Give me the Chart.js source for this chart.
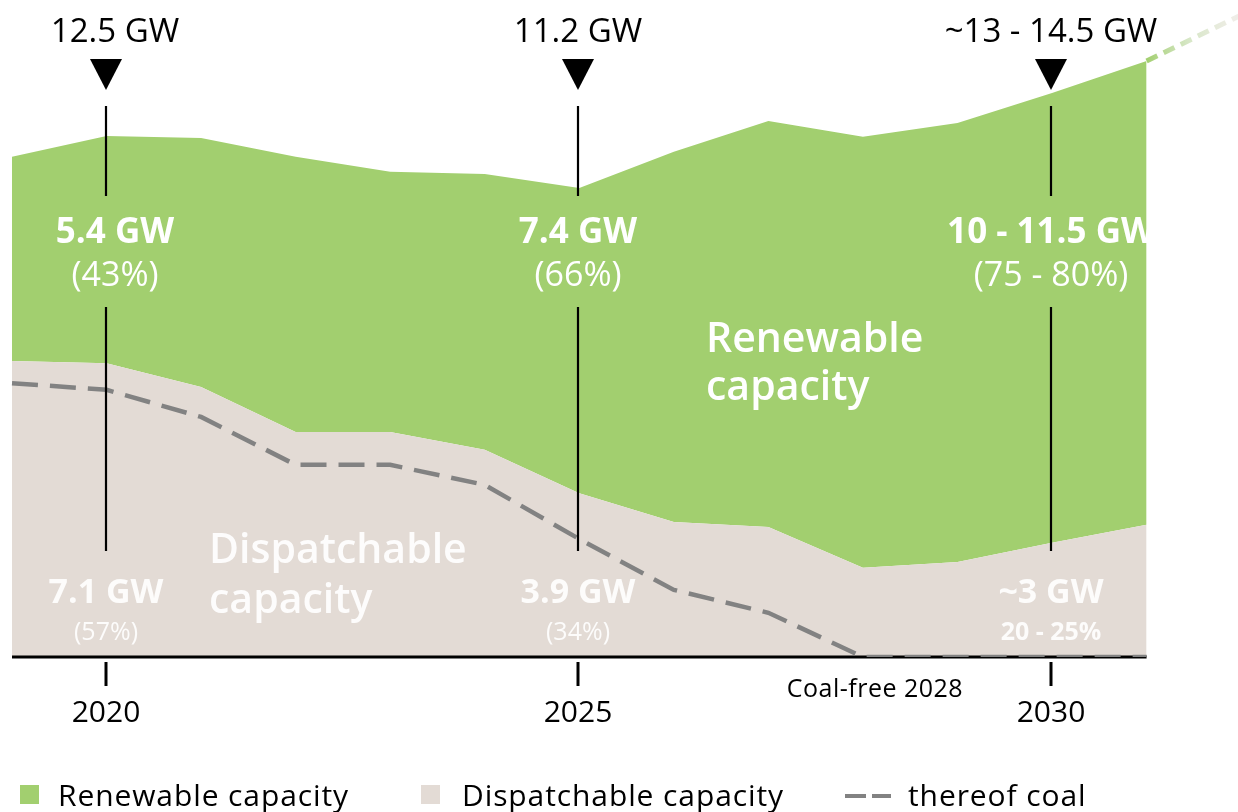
<!DOCTYPE html>
<html>
<head>
<meta charset="utf-8">
<script src="https://cdn.jsdelivr.net/npm/chart.js@4"></script>
<style>
html,body{margin:0;padding:0;background:#ffffff;}
#wrap{width:1238px;height:812px;position:relative;overflow:hidden;}
canvas{display:block;}
</style>
</head>
<body>
<div id="wrap"><canvas id="c" width="1238" height="812"></canvas></div>
<script>
// ---------- data ----------
const years = [2019, 2020, 2021, 2022, 2023, 2024, 2025, 2026, 2027, 2028, 2029, 2030, 2031];
const dispatchable = [7.10, 7.05, 6.48, 5.40, 5.40, 4.97, 3.93, 3.24, 3.12, 2.14, 2.28, 2.74, 3.17];
const renewable = [4.90, 5.45, 5.97, 6.60, 6.24, 6.62, 7.32, 8.88, 9.74, 10.34, 10.53, 10.79, 11.13];
const coal = [6.57, 6.41, 5.76, 4.61, 4.61, 4.13, 2.83, 1.61, 1.06, 0, 0, 0, 0];
const trendYears = [2031, 2032];
const trendTotal = [14.30, 15.40];
const tickYears = [2020, 2025, 2030];
const milestoneYears = [2020, 2025, 2030];
const totalLabels = ['12.5 GW', '11.2 GW', '~13 - 14.5 GW'];
const renewLabels = ['5.4 GW', '7.4 GW', '10 - 11.5 GW'];
const renewShare = ['(43%)', '(66%)', '(75 - 80%)'];
const dispLabels = ['7.1 GW', '3.9 GW', '~3 GW'];
const dispShare = ['(57%)', '(34%)', '20 - 25%'];
const coalFreeYear = 2028;
const coalFreeLabel = 'Coal-free 2028';
const seriesNames = ['Renewable capacity', 'Dispatchable capacity', 'thereof coal'];
const areaLabelRenew = ['Renewable', 'capacity'];
const areaLabelDisp = ['Dispatchable', 'capacity'];

// ---------- styles ----------
const GREEN = 'rgb(162,207,111)';
const BEIGE = 'rgb(227,219,213)';
const COAL = 'rgb(130,130,130)';
const FONT = '"Open Sans", "Noto Sans", sans-serif';

const pts = (xs, ys) => xs.map((x, i) => ({x: x, y: ys[i]}));

const annotate = {
  id: 'annotate',
  beforeDatasetDraw(chart, args) {
    if (args.index !== 2) return;
    const ctx = chart.ctx, xs = chart.scales.x, ys = chart.scales.y;
    const y0 = ys.getPixelForValue(0);
    ctx.save();
    ctx.strokeStyle = '#000';
    ctx.lineWidth = 3;
    ctx.beginPath();
    ctx.moveTo(xs.getPixelForValue(years[0]), y0);
    ctx.lineTo(xs.getPixelForValue(years[years.length - 1]), y0);
    ctx.stroke();
    ctx.restore();
  },
  afterDatasetsDraw(chart) {
    const ctx = chart.ctx, xs = chart.scales.x, ys = chart.scales.y;
    const y0 = ys.getPixelForValue(0);
    const setLS = (v) => { if ('letterSpacing' in ctx) ctx.letterSpacing = v; };
    ctx.save();
    // ticks + tick labels
    ctx.fillStyle = '#000';
    ctx.strokeStyle = '#000';
    ctx.textAlign = 'center';
    ctx.textBaseline = 'alphabetic';
    tickYears.forEach(t => {
      const x = Math.round(xs.getPixelForValue(t)) - 1;
      ctx.lineWidth = 3;
      ctx.beginPath();
      ctx.moveTo(x, y0 + 5);
      ctx.lineTo(x, y0 + 29);
      ctx.stroke();
      ctx.font = '30px ' + FONT;
      ctx.fillText(String(t), x, y0 + 65);
    });
    // coal-free label
    ctx.font = '25px ' + FONT;
    setLS('0.5px');
    ctx.fillText(coalFreeLabel, xs.getPixelForValue(coalFreeYear) + 12, y0 + 40);
    setLS('0px');

    // milestones
    const topDx = [9, 0, 0];
    milestoneYears.forEach((yr, i) => {
      const x = Math.round(xs.getPixelForValue(yr)) - 1;
      ctx.strokeStyle = '#000';
      ctx.lineWidth = 2.2;
      ctx.beginPath();
      ctx.moveTo(x, 106); ctx.lineTo(x, 196);
      ctx.moveTo(x, 307); ctx.lineTo(x, 551);
      ctx.stroke();
      ctx.fillStyle = '#000';
      ctx.beginPath();
      ctx.moveTo(x - 16, 59); ctx.lineTo(x + 16, 59); ctx.lineTo(x, 90);
      ctx.closePath();
      ctx.fill();
      ctx.textAlign = 'center';
      ctx.font = '33px ' + FONT;
      ctx.fillText(totalLabels[i], x + topDx[i], 42);
      ctx.fillStyle = '#fff';
      ctx.font = 'bold 35px ' + FONT;
      ctx.fillText(renewLabels[i], x + topDx[i], 243);
      ctx.font = '34px ' + FONT;
      ctx.fillText(renewShare[i], x + topDx[i], 286);
      ctx.fillStyle = 'rgba(255,255,255,0.9)';
      ctx.font = 'bold 34px ' + FONT;
      ctx.fillText(dispLabels[i], x, 603);
      ctx.font = (i === 2 ? 'bold 25px ' : '25px ') + FONT;
      ctx.fillText(dispShare[i], x, 640);
    });

    // area labels
    ctx.textAlign = 'left';
    ctx.fillStyle = '#fff';
    ctx.font = '600 41px ' + FONT;
    ctx.fillText(areaLabelRenew[0], 706, 352);
    ctx.fillText(areaLabelRenew[1], 706, 400);
    ctx.fillStyle = 'rgba(255,255,255,0.92)';
    ctx.fillText(areaLabelDisp[0], 209, 563);
    ctx.fillText(areaLabelDisp[1], 209, 613);

    // legend
    ctx.font = '30px ' + FONT;
    setLS('0.9px');
    ctx.fillStyle = GREEN;
    ctx.fillRect(20, 785, 19, 19);
    ctx.fillStyle = BEIGE;
    ctx.fillRect(421, 785, 19, 19);
    ctx.strokeStyle = COAL;
    ctx.lineWidth = 4;
    ctx.beginPath();
    ctx.moveTo(845, 796); ctx.lineTo(866, 796);
    ctx.moveTo(872, 796); ctx.lineTo(891, 796);
    ctx.stroke();
    ctx.fillStyle = '#000';
    ctx.fillText(seriesNames[0], 58, 806);
    ctx.fillText(seriesNames[1], 462, 806);
    ctx.fillText(seriesNames[2], 908, 806);
    setLS('0px');
    ctx.restore();
  }
};

new Chart(document.getElementById('c'), {
  type: 'line',
  data: {
    datasets: [
      {
        label: seriesNames[1],
        data: pts(years, dispatchable),
        stack: 'cap', order: 2,
        fill: 'origin',
        backgroundColor: BEIGE,
        borderWidth: 0, borderColor: 'rgba(0,0,0,0)',
        pointRadius: 0, tension: 0
      },
      {
        label: seriesNames[0],
        data: pts(years, renewable),
        stack: 'cap', order: 2,
        fill: '-1',
        backgroundColor: GREEN,
        borderWidth: 0, borderColor: 'rgba(0,0,0,0)',
        pointRadius: 0, tension: 0
      },
      {
        label: seriesNames[2],
        data: pts(years, coal),
        stack: 'coal', order: 0,
        fill: false,
        borderColor: COAL,
        borderWidth: 4.5,
        borderDash: [26, 12],
        pointRadius: 0, tension: 0
      },
      {
        label: 'trend',
        data: pts(trendYears, trendTotal),
        stack: 'trend', order: 1,
        fill: false,
        borderWidth: 5,
        borderDash: [12, 7],
        borderColor: (context) => {
          const chart = context.chart;
          const xs = chart.scales.x;
          if (!chart.chartArea || !xs) return GREEN;
          const g = chart.ctx.createLinearGradient(xs.getPixelForValue(trendYears[0]), 0, xs.getPixelForValue(trendYears[1]), 0);
          g.addColorStop(0, GREEN);
          g.addColorStop(0.45, 'rgba(205,225,185,0.8)');
          g.addColorStop(1, 'rgba(232,226,220,0.6)');
          return g;
        },
        pointRadius: 0, tension: 0
      }
    ]
  },
  options: {
    responsive: false,
    animation: false,
    devicePixelRatio: 1,
    layout: {padding: {top: 0, bottom: 155, left: 0, right: 0}},
    plugins: {legend: {display: false}, tooltip: {enabled: false}},
    scales: {
      x: {type: 'linear', display: false, min: 2018.873, max: 2031.967},
      y: {display: false, stacked: true, min: 0, max: 15.763}
    }
  },
  plugins: [annotate]
});
</script>
</body>
</html>
